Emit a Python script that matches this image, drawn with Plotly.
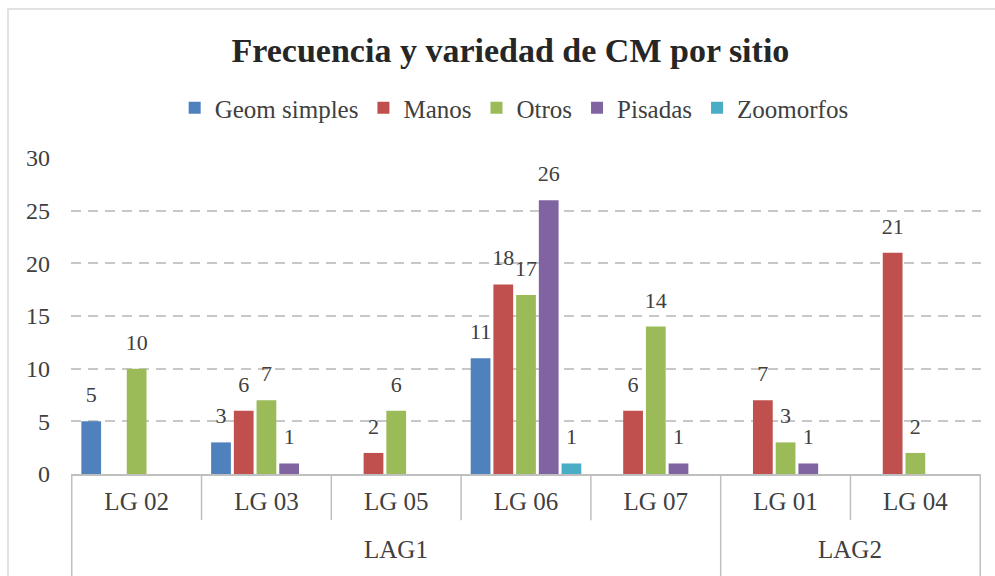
import plotly.graph_objects as go

sites = ["LG 02", "LG 03", "LG 05", "LG 06", "LG 07", "LG 01", "LG 04"]
groups = ["LAG1", "LAG1", "LAG1", "LAG1", "LAG1", "LAG2", "LAG2"]
series_names = ["Geom simples", "Manos", "Otros", "Pisadas", "Zoomorfos"]
geom = [5, 3, None, 11, None, None, None]
manos = [None, 6, 2, 18, 6, 7, 21]
otros = [10, 7, 6, 17, 14, 3, 2]
pisadas = [None, 1, None, 26, 1, 1, None]
zoomorfos = [None, None, None, 1, None, None, None]
colors = ["#4F81BD", "#C0504D", "#9BBB59", "#8064A2", "#4BACC6"]

FONT = "Liberation Serif"
TXT = "#404040"
fig = go.Figure()
all_vals = [geom, manos, otros, pisadas, zoomorfos]
for name, vals, col in zip(series_names, all_vals, colors):
    fig.add_trace(go.Bar(
        x=sites, y=vals, name=name, marker=dict(color=col, line=dict(width=0)),
        offsetgroup=name, alignmentgroup="a", hoverinfo="skip",
    ))
# data labels, grouped the same way as the bars
for name, vals in zip(series_names, all_vals):
    fig.add_trace(go.Scatter(
        x=sites, y=vals, mode="markers+text", showlegend=False, hoverinfo="skip",
        offsetgroup=name, alignmentgroup="a",
        marker=dict(size=20, opacity=0),
        text=[("" if v is None else str(v)) for v in vals],
        textposition="top center", cliponaxis=False,
        textfont=dict(family=FONT, size=22, color=TXT),
    ))

shapes = []
# chart border
shapes.append(dict(type="rect", xref="paper", yref="paper", x0=(8 - 71) / 910, x1=(1010 - 71) / 910,
                   y0=(474 - 590) / 316, y1=(474 - 9) / 316,
                   line=dict(color="#D9D9D9", width=1.5), layer="below"))
# category dividers
for i in range(len(sites) + 1):
    xv = i - 0.5
    outer = (i == 0) or (i == len(sites)) or (groups[i - 1] != groups[i])
    shapes.append(dict(type="line", xref="x", yref="paper", x0=xv, x1=xv, y0=0,
                       y1=-0.34 if outer else -0.146,
                       line=dict(color="#BFBFBF", width=1.5)))

annotations = []
uniq = []
for g in groups:
    if g not in uniq:
        uniq.append(g)
for g in uniq:
    idx = [i for i, gg in enumerate(groups) if gg == g]
    annotations.append(dict(x=(idx[0] + idx[-1]) / 2, y=-0.24, xref="x", yref="paper", text=g,
                            showarrow=False, font=dict(family=FONT, size=25, color=TXT),
                            yanchor="middle"))

fig.update_layout(
    width=995, height=576,
    margin=dict(l=71, r=14, t=158, b=102),
    paper_bgcolor="white", plot_bgcolor="white",
    barmode="group", bargap=0.125, bargroupgap=0.13,
    scattermode="group", scattergap=0.125,
    font=dict(family=FONT, color=TXT),
    title=dict(text="<b>Frecuencia y variedad de CM por sitio</b>", x=0.513, xanchor="center",
               y=0.913, yanchor="middle", font=dict(family=FONT, size=34, color="#262626")),
    legend=dict(orientation="h", x=0.487, xanchor="center", y=1.158,
                yanchor="middle", font=dict(family=FONT, size=25, color=TXT), itemwidth=30,
                itemsizing="constant"),
    xaxis=dict(showline=True, linecolor="#BFBFBF", linewidth=1.5, ticks="",
               tickfont=dict(family=FONT, size=25, color=TXT), ticklabelstandoff=4,
               showgrid=False),
    yaxis=dict(range=[0, 30], dtick=5, showgrid=True, gridcolor="#C8C8C8", griddash="10px,7px",
               gridwidth=1.5, zeroline=False, showline=False,
               tickfont=dict(family=FONT, size=24, color=TXT), ticklabelstandoff=20),
    shapes=shapes, annotations=annotations,
)
fig.write_html("out.html", post_script="document.body.style.margin='0';",
               config={"displayModeBar": False})
